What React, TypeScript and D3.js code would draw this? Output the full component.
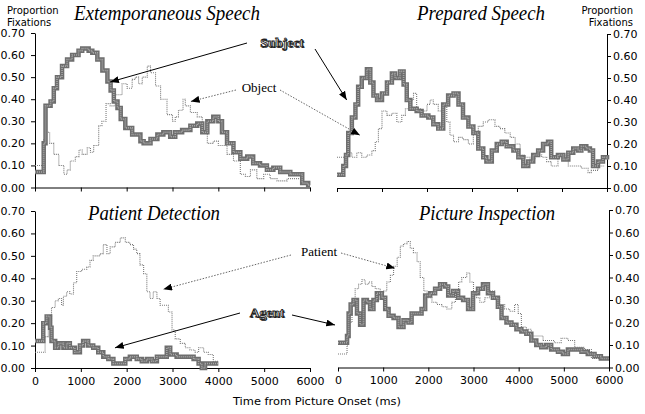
import React, { useRef, useEffect } from 'react';
import * as d3 from 'd3';

type Pt = [number, number];

const timeTicks = [0, 1000, 2000, 3000, 4000, 5000, 6000];
const propTicks = [0, 0.1, 0.2, 0.3, 0.4, 0.5, 0.6, 0.7];
const panelTitles = ['Extemporaneous Speech', 'Prepared Speech', 'Patient Detection', 'Picture Inspection'];
const axisTitle = 'Time from Picture Onset (ms)';
const yTitle = ['Proportion', 'Fixations'];

// Extemporaneous Speech
const extSubject: Pt[] = [[0, 0.07], [190, 0.2], [230, 0.37], [340, 0.39], [410, 0.45], [480, 0.5], [590, 0.55], [700, 0.58], [810, 0.6], [950, 0.62], [1030, 0.63], [1170, 0.62], [1250, 0.61], [1360, 0.58], [1470, 0.53], [1580, 0.48], [1650, 0.44], [1720, 0.39], [1800, 0.36], [1870, 0.31], [1970, 0.27], [2120, 0.24], [2300, 0.21], [2370, 0.2], [2520, 0.22], [2670, 0.24], [2800, 0.25], [2950, 0.23], [3060, 0.25], [3210, 0.26], [3390, 0.28], [3540, 0.29], [3650, 0.25], [3760, 0.3], [3890, 0.32], [4000, 0.3], [4080, 0.25], [4190, 0.2], [4330, 0.16], [4480, 0.13], [4630, 0.14], [4760, 0.11], [4910, 0.1], [5060, 0.08], [5200, 0.09], [5350, 0.07], [5570, 0.06], [5830, 0.02], [5960, 0.01], [6000, 0.01]];
const extObject: Pt[] = [[0, 0.1], [190, 0.22], [250, 0.25], [320, 0.2], [410, 0.15], [520, 0.1], [630, 0.06], [700, 0.08], [770, 0.12], [880, 0.14], [960, 0.17], [1030, 0.15], [1140, 0.18], [1210, 0.16], [1280, 0.19], [1390, 0.28], [1460, 0.3], [1550, 0.38], [1640, 0.37], [1750, 0.42], [1900, 0.47], [2010, 0.45], [2120, 0.49], [2190, 0.5], [2260, 0.47], [2340, 0.5], [2450, 0.55], [2520, 0.52], [2630, 0.46], [2740, 0.4], [2880, 0.33], [3000, 0.3], [3060, 0.32], [3130, 0.35], [3230, 0.4], [3280, 0.37], [3390, 0.34], [3540, 0.32], [3650, 0.25], [3760, 0.2], [3890, 0.21], [4000, 0.19], [4190, 0.15], [4330, 0.12], [4480, 0.06], [4590, 0.05], [4700, 0.08], [4840, 0.04], [4990, 0.06], [5130, 0.04], [5280, 0.03], [5500, 0.04], [5790, 0.04]];

// Prepared Speech
const prepSubject: Pt[] = [[0, 0.06], [140, 0.1], [200, 0.15], [250, 0.25], [330, 0.32], [410, 0.38], [470, 0.46], [550, 0.5], [665, 0.54], [740, 0.48], [810, 0.42], [890, 0.4], [1000, 0.43], [1110, 0.48], [1220, 0.52], [1290, 0.5], [1400, 0.53], [1480, 0.47], [1550, 0.4], [1630, 0.36], [1770, 0.35], [1880, 0.33], [2030, 0.32], [2140, 0.29], [2250, 0.27], [2360, 0.38], [2470, 0.42], [2590, 0.43], [2700, 0.38], [2800, 0.32], [2920, 0.28], [3030, 0.25], [3140, 0.18], [3250, 0.14], [3320, 0.12], [3440, 0.17], [3550, 0.2], [3660, 0.21], [3770, 0.19], [3920, 0.17], [4030, 0.14], [4140, 0.1], [4250, 0.12], [4360, 0.15], [4470, 0.17], [4580, 0.2], [4690, 0.21], [4760, 0.14], [4910, 0.15], [5030, 0.13], [5140, 0.16], [5250, 0.18], [5360, 0.17], [5430, 0.19], [5540, 0.18], [5620, 0.17], [5690, 0.1], [5800, 0.12], [5910, 0.14], [6000, 0.13]];
const prepObject: Pt[] = [[0, 0.14], [220, 0.16], [330, 0.14], [440, 0.16], [550, 0.14], [665, 0.15], [775, 0.17], [850, 0.21], [920, 0.27], [1000, 0.35], [1110, 0.33], [1220, 0.34], [1330, 0.3], [1440, 0.33], [1520, 0.36], [1590, 0.4], [1700, 0.43], [1770, 0.36], [1880, 0.35], [2000, 0.38], [2070, 0.4], [2140, 0.38], [2250, 0.35], [2360, 0.37], [2440, 0.3], [2510, 0.24], [2590, 0.21], [2700, 0.23], [2800, 0.22], [2920, 0.2], [3030, 0.25], [3140, 0.28], [3250, 0.3], [3360, 0.31], [3510, 0.28], [3620, 0.27], [3730, 0.25], [3850, 0.23], [3960, 0.2], [4070, 0.15], [4180, 0.14], [4290, 0.13], [4400, 0.15], [4550, 0.14], [4660, 0.12], [4760, 0.1], [4910, 0.15], [5060, 0.13], [5140, 0.1], [5290, 0.1], [5430, 0.09], [5580, 0.07], [5650, 0.08], [5800, 0.1], [5950, 0.1]];

// Patient Detection
const detAgent: Pt[] = [[0, 0.12], [180, 0.2], [255, 0.23], [330, 0.18], [360, 0.12], [440, 0.09], [510, 0.11], [620, 0.09], [690, 0.11], [760, 0.09], [870, 0.07], [980, 0.1], [1050, 0.12], [1160, 0.1], [1270, 0.09], [1380, 0.07], [1490, 0.05], [1600, 0.04], [1710, 0.02], [1860, 0.02], [1970, 0.04], [2070, 0.05], [2220, 0.04], [2330, 0.03], [2440, 0.04], [2550, 0.03], [2660, 0.05], [2800, 0.05], [2875, 0.09], [2950, 0.06], [3090, 0.05], [3310, 0.05], [3460, 0.04], [3570, 0.02], [3640, 0.0], [3710, 0.02], [4000, 0.02]];
const detPatient: Pt[] = [[0, 0.07], [220, 0.14], [290, 0.2], [360, 0.27], [440, 0.3], [510, 0.31], [580, 0.28], [620, 0.32], [690, 0.34], [760, 0.33], [840, 0.38], [910, 0.43], [1020, 0.44], [1130, 0.45], [1200, 0.48], [1270, 0.5], [1420, 0.51], [1490, 0.55], [1570, 0.51], [1640, 0.54], [1750, 0.56], [1860, 0.58], [1970, 0.56], [2070, 0.55], [2150, 0.53], [2220, 0.51], [2290, 0.46], [2370, 0.42], [2440, 0.34], [2510, 0.31], [2580, 0.34], [2660, 0.31], [2730, 0.28], [2840, 0.28], [2910, 0.25], [2990, 0.17], [3060, 0.13], [3170, 0.11], [3280, 0.09], [3380, 0.08], [3490, 0.07], [3570, 0.09], [3680, 0.07], [3780, 0.06], [3890, 0.03], [4000, 0.03]];

// Picture Inspection
const inspAgent: Pt[] = [[0, 0.11], [200, 0.14], [235, 0.24], [280, 0.28], [345, 0.3], [420, 0.24], [490, 0.19], [565, 0.3], [640, 0.29], [710, 0.26], [785, 0.3], [860, 0.33], [970, 0.31], [1045, 0.26], [1120, 0.23], [1230, 0.22], [1340, 0.18], [1450, 0.21], [1560, 0.2], [1630, 0.24], [1740, 0.24], [1850, 0.26], [1930, 0.32], [2040, 0.33], [2150, 0.35], [2260, 0.37], [2370, 0.36], [2440, 0.32], [2550, 0.34], [2660, 0.31], [2770, 0.3], [2880, 0.26], [2990, 0.33], [3100, 0.35], [3210, 0.37], [3320, 0.33], [3430, 0.31], [3540, 0.27], [3620, 0.22], [3730, 0.2], [3840, 0.19], [3950, 0.17], [4060, 0.16], [4170, 0.15], [4280, 0.12], [4390, 0.1], [4500, 0.09], [4610, 0.1], [4720, 0.08], [4870, 0.07], [4980, 0.06], [5090, 0.08], [5390, 0.07], [5530, 0.06], [5680, 0.05], [5820, 0.04], [6000, 0.04]];
const inspPatient: Pt[] = [[0, 0.06], [200, 0.1], [235, 0.2], [310, 0.3], [380, 0.35], [455, 0.37], [530, 0.39], [600, 0.37], [680, 0.38], [750, 0.36], [825, 0.35], [935, 0.33], [1010, 0.34], [1080, 0.38], [1160, 0.41], [1230, 0.45], [1310, 0.49], [1380, 0.54], [1450, 0.55], [1530, 0.56], [1600, 0.53], [1670, 0.51], [1750, 0.47], [1820, 0.4], [1900, 0.34], [1970, 0.31], [2080, 0.29], [2190, 0.28], [2300, 0.27], [2410, 0.26], [2520, 0.29], [2600, 0.33], [2670, 0.38], [2740, 0.4], [2850, 0.42], [2920, 0.38], [3000, 0.33], [3070, 0.31], [3140, 0.29], [3250, 0.31], [3360, 0.34], [3470, 0.31], [3580, 0.28], [3690, 0.26], [3800, 0.25], [3910, 0.28], [3990, 0.24], [4060, 0.18], [4170, 0.17], [4280, 0.14], [4390, 0.14], [4540, 0.12], [4650, 0.12], [4790, 0.11], [4940, 0.13], [5090, 0.12], [5240, 0.09], [5460, 0.08], [5610, 0.04], [5830, 0.04], [6000, 0.04]];

const W = 645;
const H = 414;
const tickFont = 'DejaVu Sans, sans-serif';

const FixationChart = () => {
    const svgRef = useRef<SVGSVGElement>(null);

    useEffect(() => {
        const svg = d3.select(svgRef.current);
        svg.selectAll('*').remove();

        const defs = svg.append('defs');
        defs.append('marker')
            .attr('id', 'head')
            .attr('viewBox', '0 0 10 8')
            .attr('refX', 10).attr('refY', 4)
            .attr('markerWidth', 9).attr('markerHeight', 7)
            .attr('markerUnits', 'userSpaceOnUse')
            .attr('orient', 'auto')
            .append('path').attr('d', 'M0,0 L10,4 L0,8 Z').attr('fill', '#000');

        // panel layout
        const panels = [
            { title: panelTitles[0], xr: [35, 310], yr: [187.5, 33], side: 'left', labels: false, thin: extObject, thick: extSubject, tx: 167, ty: 20, tl: 186 },
            { title: panelTitles[1], xr: [337, 607], yr: [188, 34], side: 'right', labels: false, thin: prepObject, thick: prepSubject, tx: 481, ty: 20, tl: 128 },
            { title: panelTitles[2], xr: [35, 310], yr: [368, 211], side: 'left', labels: true, thin: detPatient, thick: detAgent, tx: 154, ty: 220, tl: 132 },
            { title: panelTitles[3], xr: [338, 609], yr: [367.5, 210], side: 'right', labels: true, thin: inspPatient, thick: inspAgent, tx: 487, ty: 220, tl: 136 },
        ];

        const scales = panels.map(p => ({
            x: d3.scaleLinear().domain([0, 6000]).range(p.xr),
            y: d3.scaleLinear().domain([0, 0.7]).range(p.yr),
        }));

        panels.forEach((p, i) => {
            const { x, y } = scales[i];
            const g = svg.append('g');

            // x axis
            const xAxis = d3.axisBottom(x).tickValues(timeTicks).tickSize(4).tickSizeOuter(0).tickPadding(5)
                .tickFormat(p.labels ? d3.format('d') : () => '');
            const xg = g.append('g').attr('transform', `translate(0,${p.yr[0]})`).call(xAxis);
            xg.attr('font-family', tickFont).attr('font-size', 11);
            xg.selectAll('line, path').attr('stroke', '#000');

            // y axis
            const yAxis = (p.side === 'left' ? d3.axisLeft(y) : d3.axisRight(y))
                .tickValues(propTicks).tickSize(4).tickSizeOuter(0)
                .tickPadding(p.side === 'left' ? 6 : 2)
                .tickFormat(d3.format('.2f'));
            const yg = g.append('g').attr('transform', `translate(${p.side === 'left' ? p.xr[0] : p.xr[1]},0)`).call(yAxis);
            yg.attr('font-family', tickFont).attr('font-size', 11);
            yg.selectAll('line, path').attr('stroke', '#000');

            const line = d3.line<Pt>().x(d => x(d[0])).y(d => y(d[1])).curve(d3.curveStepAfter);

            g.append('path').datum(p.thin)
                .attr('fill', 'none').attr('stroke', '#7a7a7a').attr('stroke-width', 1.1)
                .attr('stroke-dasharray', '1 1').attr('d', line);

            // thick series: mid-gray band with checkered centre
            g.append('path').datum(p.thick)
                .attr('fill', 'none').attr('stroke', '#6e6e6e').attr('stroke-width', 4.5)
                .attr('d', line);
            g.append('path').datum(p.thick)
                .attr('fill', 'none').attr('stroke', '#a6a6a6').attr('stroke-width', 1.6)
                .attr('stroke-dasharray', '1 1').attr('d', line);

            g.append('text')
                .attr('x', p.tx).attr('y', p.ty)
                .attr('text-anchor', 'middle')
                .attr('font-family', 'Liberation Serif, serif')
                .attr('font-style', 'italic')
                .attr('font-size', 20)
                .attr('textLength', p.tl).attr('lengthAdjust', 'spacingAndGlyphs')
                .text(p.title);
        });

        // y titles
        const yt = svg.append('g').attr('font-family', tickFont).attr('font-size', 10);
        yt.append('text').attr('x', 7).attr('y', 14).text(yTitle[0]);
        yt.append('text').attr('x', 7).attr('y', 26).text(yTitle[1]);
        yt.append('text').attr('x', 633).attr('y', 14).attr('text-anchor', 'end').text(yTitle[0]);
        yt.append('text').attr('x', 633).attr('y', 26).attr('text-anchor', 'end').text(yTitle[1]);

        svg.append('text')
            .attr('x', 317).attr('y', 405)
            .attr('text-anchor', 'middle')
            .attr('font-family', tickFont).attr('font-size', 11)
            .attr('textLength', 168).attr('lengthAdjust', 'spacingAndGlyphs')
            .text(axisTitle);

        // annotation arrows: [from px, panel index, time, value, dotted]
        const arrows: [number, number, number, number, number, boolean][] = [
            [247, 43, 0, 1640, 0.478, false],
            [315, 49, 1, 215, 0.4, false],
            [236, 90, 0, 3400, 0.39, true],
            [280, 90, 1, 510, 0.24, true],
            [291, 255, 2, 2800, 0.351, true],
            [341, 253, 3, 1262, 0.441, true],
            [240, 313, 2, 1745, 0.09, false],
            [292, 315, 3, -66, 0.189, false],
        ];
        arrows.forEach(([fx, fy, pi, t, v, dotted]) => {
            svg.append('line')
                .attr('x1', fx).attr('y1', fy)
                .attr('x2', scales[pi].x(t)).attr('y2', scales[pi].y(v))
                .attr('stroke', dotted ? '#666' : '#000')
                .attr('stroke-width', 1)
                .attr('stroke-dasharray', dotted ? '1.5 1.5' : null)
                .attr('marker-end', 'url(#head)');
        });

        const outlined = (label: string, cx: number, cy: number) => {
            const t = svg.append('g').attr('font-family', 'Liberation Serif, serif')
                .attr('font-weight', 'bold').attr('font-size', 13.5).attr('text-anchor', 'middle');
            t.append('text').attr('x', cx + 1).attr('y', cy + 1).attr('fill', '#222').text(label);
            t.append('text').attr('x', cx).attr('y', cy).attr('fill', '#e6e6e6')
                .attr('stroke', '#222').attr('stroke-width', 0.8).text(label);
        };
        const plain = (label: string, cx: number, cy: number) => {
            svg.append('text').attr('x', cx).attr('y', cy)
                .attr('font-family', 'Liberation Serif, serif').attr('font-size', 13)
                .attr('text-anchor', 'middle').text(label);
        };
        outlined('Subject', 282, 47);
        plain('Object', 259, 92);
        plain('Patient', 319, 256);
        outlined('Agent', 267, 317);
    }, []);

    return (
        <svg ref={svgRef} width={W} height={H}
            style={{ position: 'absolute', left: 0, top: 0, background: '#fff' }} />
    );
};

export default function App() {
    return <FixationChart />;
}
